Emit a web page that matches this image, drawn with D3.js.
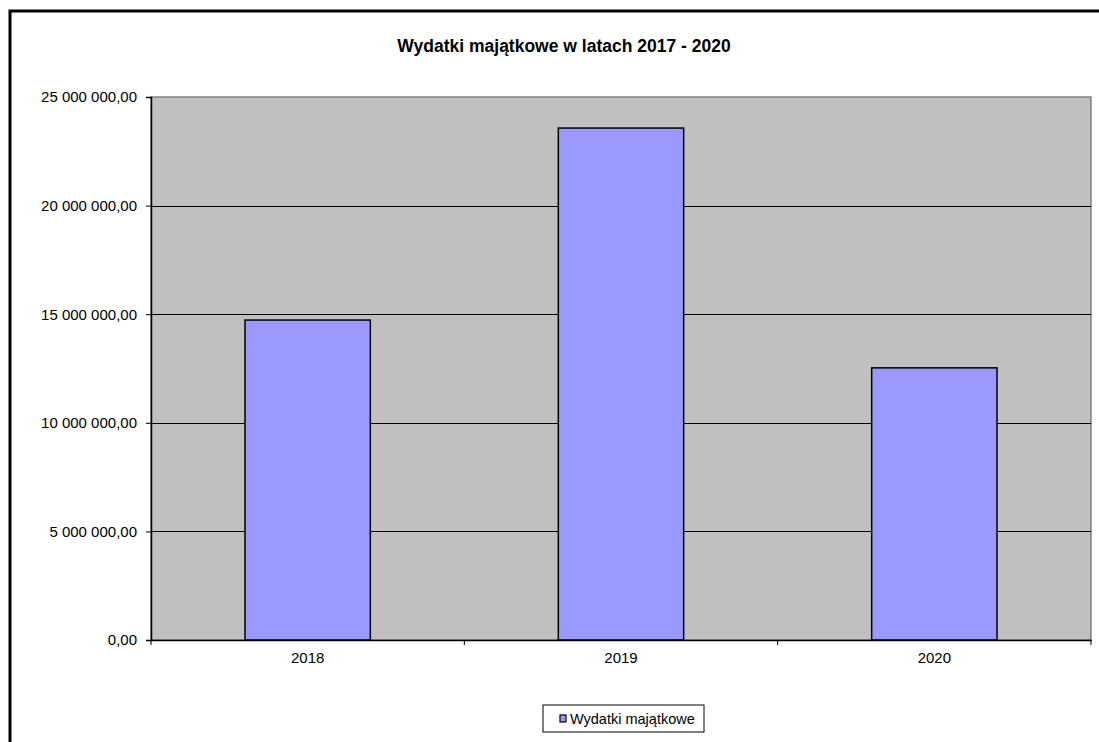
<!DOCTYPE html>
<html>
<head>
<meta charset="utf-8">
<script src="https://cdn.jsdelivr.net/npm/d3@7"></script>
<style>
  html, body { margin: 0; padding: 0; background: #fff; }
  svg { display: block; font-family: Arial, "Liberation Sans", sans-serif; }
</style>
</head>
<body>
<div id="chart"></div>
<script>
const title = "Wydatki majątkowe w latach 2017 - 2020";
const seriesName = "Wydatki majątkowe";
const years = ["2018", "2019", "2020"];
const values = [14730000, 23570000, 12530000];
const yTicks = [0, 5000000, 10000000, 15000000, 20000000, 25000000];

const W = 1099, H = 742;
const plot = { left: 151, top: 97, right: 1091, bottom: 640 };

const plLocale = d3.formatLocale({ decimal: ",", thousands: " ", grouping: [3], currency: ["", " zł"] });
const fmt = plLocale.format(",.2f");

const svg = d3.select("#chart").append("svg")
  .attr("width", W).attr("height", H);

// outer chart frame (right and bottom sides fall outside the picture)
svg.append("rect")
  .attr("x", 10).attr("y", 11)
  .attr("width", 1300).attr("height", 1000)
  .attr("fill", "#fff").attr("stroke", "#000").attr("stroke-width", 3);

const x = d3.scaleBand().domain(years)
  .range([plot.left, plot.right])
  .paddingInner(0.6).paddingOuter(0.3);
const xCat = d3.scaleBand().domain(years)
  .range([plot.left, plot.right]).padding(0);
const y = d3.scaleLinear().domain([0, 25000000])
  .range([plot.bottom, plot.top]);

// plot area
svg.append("rect")
  .attr("x", plot.left).attr("y", plot.top)
  .attr("width", plot.right - plot.left).attr("height", plot.bottom - plot.top)
  .attr("fill", "#c0c0c0").attr("stroke", "#808080").attr("stroke-width", 1.5);

// grid lines
svg.append("g")
  .selectAll("line")
  .data(yTicks.filter(d => d > 0 && d < 25000000))
  .join("line")
  .attr("x1", plot.left).attr("x2", plot.right)
  .attr("y1", d => Math.round(y(d)) + 0.5).attr("y2", d => Math.round(y(d)) + 0.5)
  .attr("stroke", "#000").attr("stroke-width", 1);

// bars
svg.append("g")
  .selectAll("rect")
  .data(years)
  .join("rect")
  .attr("x", d => x(d))
  .attr("y", (d, i) => y(values[i]))
  .attr("width", x.bandwidth())
  .attr("height", (d, i) => y(0) - y(values[i]))
  .attr("fill", "#9999ff").attr("stroke", "#000").attr("stroke-width", 1.5);

// y axis
const yAxis = svg.append("g")
  .attr("transform", `translate(${plot.left},0)`)
  .call(d3.axisLeft(y).tickValues(yTicks).tickFormat(fmt).tickSize(5).tickPadding(9));
yAxis.select(".domain").attr("stroke", "#000").attr("stroke-width", 1.5);
yAxis.selectAll("text").attr("font-size", 15).attr("fill", "#000")
  .attr("font-family", "Arial, 'Liberation Sans', sans-serif");

// x axis
const xAxis = svg.append("g")
  .attr("transform", `translate(0,${plot.bottom})`)
  .call(d3.axisBottom(xCat).tickSize(0).tickPadding(12));
xAxis.select(".domain").attr("stroke", "#000").attr("stroke-width", 1.5);
xAxis.selectAll("text").attr("font-size", 15).attr("fill", "#000")
  .attr("font-family", "Arial, 'Liberation Sans', sans-serif");
xAxis.selectAll(".boundary")
  .data(years.map(d => xCat(d)).concat([plot.right]))
  .join("line")
  .attr("class", "boundary")
  .attr("x1", d => d).attr("x2", d => d)
  .attr("y1", 0).attr("y2", 5)
  .attr("stroke", "#000").attr("stroke-width", 1);

// title
svg.append("text")
  .attr("x", 564).attr("y", 52)
  .attr("text-anchor", "middle")
  .attr("font-size", 17.5).attr("font-weight", "bold")
  .text(title);

// legend
const lg = svg.append("g").attr("transform", "translate(543,705)");
lg.append("rect")
  .attr("x", 0).attr("y", 0).attr("width", 161).attr("height", 27)
  .attr("fill", "#fff").attr("stroke", "#000").attr("stroke-width", 1);
lg.append("rect")
  .attr("x", 17).attr("y", 10).attr("width", 6).attr("height", 7)
  .attr("fill", "#9999ff").attr("stroke", "#000").attr("stroke-width", 1.2);
lg.append("text")
  .attr("x", 27).attr("y", 18.5)
  .attr("font-size", 14.5)
  .text(seriesName);
</script>
</body>
</html>
